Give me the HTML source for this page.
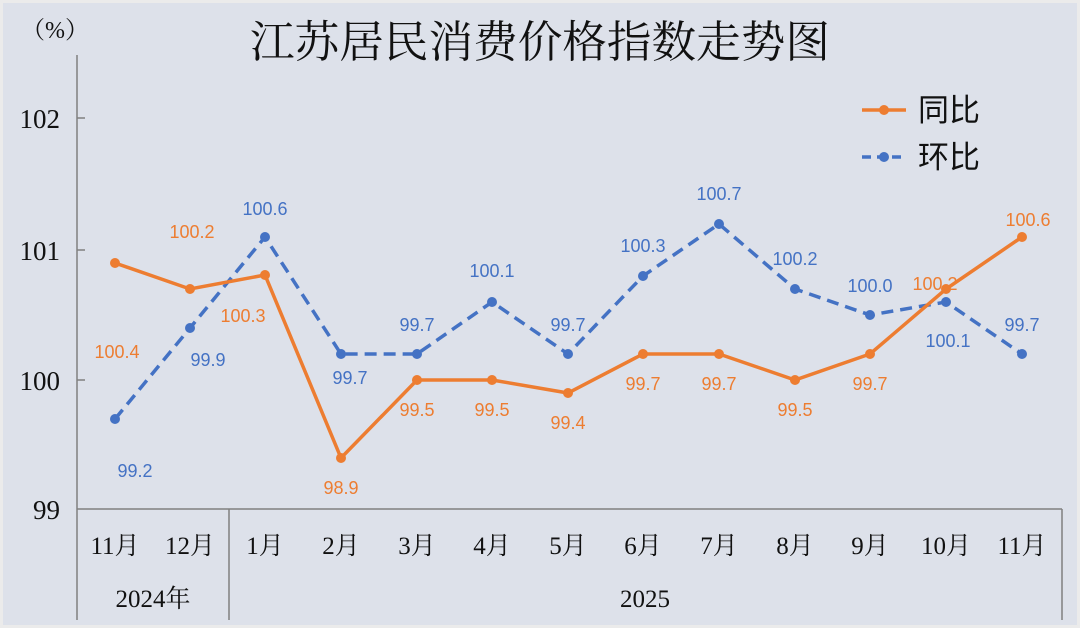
<!DOCTYPE html>
<html><head><meta charset="utf-8"><style>
body{margin:0;background:#ebebeb}
svg{display:block}
</style></head><body>
<svg width="1080" height="628" xmlns="http://www.w3.org/2000/svg">
<rect x="3" y="3" width="1074" height="622" fill="#dde1ea"/>
<g font-family="Liberation Serif, Noto Serif CJK SC, serif" fill="#111">
<text x="540" y="57" font-size="44" text-anchor="middle" textLength="580" lengthAdjust="spacingAndGlyphs">江苏居民消费价格指数走势图</text>
<text x="55" y="38" font-size="24" text-anchor="middle">（%）</text>
<g font-size="27" text-anchor="end">
<text x="60" y="128">102</text><text x="60" y="260">101</text><text x="60" y="390">100</text><text x="60" y="519">99</text>
</g>
<g font-size="25" text-anchor="middle">
<text x="115" y="554">11月</text><text x="190" y="554">12月</text><text x="265" y="554">1月</text><text x="341" y="554">2月</text><text x="417" y="554">3月</text><text x="492" y="554">4月</text><text x="568" y="554">5月</text><text x="643" y="554">6月</text><text x="719" y="554">7月</text><text x="795" y="554">8月</text><text x="870" y="554">9月</text><text x="946" y="554">10月</text><text x="1022" y="554">11月</text>
<text x="153" y="607">2024年</text><text x="645" y="607">2025</text>
</g>
</g>
<g stroke="#808080" stroke-width="1.5" fill="none">
<path d="M77 55V620M77 118H85M77 250H85M77 380H85M77 509H1062M229 509V620M1062 509V620"/>
</g>
<polyline fill="none" stroke="#4472c4" stroke-width="3.5" stroke-dasharray="12,7" points="115,419 190,328 265,237 341,354 417,354 492,302 568,354 643,276 719,224 795,289 870,315 946,302 1022,354"/>
<polyline fill="none" stroke="#ed7d31" stroke-width="3.5" points="115,263 190,289 265,275 341,458 417,380 492,380 568,393 643,354 719,354 795,380 870,354 946,289 1022,237"/>
<g fill="#4472c4">
<circle cx="115" cy="419" r="5"/><circle cx="190" cy="328" r="5"/><circle cx="265" cy="237" r="5"/><circle cx="341" cy="354" r="5"/><circle cx="417" cy="354" r="5"/><circle cx="492" cy="302" r="5"/><circle cx="568" cy="354" r="5"/><circle cx="643" cy="276" r="5"/><circle cx="719" cy="224" r="5"/><circle cx="795" cy="289" r="5"/><circle cx="870" cy="315" r="5"/><circle cx="946" cy="302" r="5"/><circle cx="1022" cy="354" r="5"/>
</g>
<g fill="#ed7d31">
<circle cx="115" cy="263" r="5"/><circle cx="190" cy="289" r="5"/><circle cx="265" cy="275" r="5"/><circle cx="341" cy="458" r="5"/><circle cx="417" cy="380" r="5"/><circle cx="492" cy="380" r="5"/><circle cx="568" cy="393" r="5"/><circle cx="643" cy="354" r="5"/><circle cx="719" cy="354" r="5"/><circle cx="795" cy="380" r="5"/><circle cx="870" cy="354" r="5"/><circle cx="946" cy="289" r="5"/><circle cx="1022" cy="237" r="5"/>
</g>
<g font-family="Liberation Sans, sans-serif" font-size="18" text-anchor="middle" fill="#ed7d31">
<text x="117" y="358">100.4</text><text x="192" y="238">100.2</text><text x="243" y="322">100.3</text><text x="341" y="494">98.9</text><text x="417" y="416">99.5</text><text x="492" y="416">99.5</text><text x="568" y="429">99.4</text><text x="643" y="390">99.7</text><text x="719" y="390">99.7</text><text x="795" y="416">99.5</text><text x="870" y="390">99.7</text><text x="935" y="290">100.2</text><text x="1028" y="226">100.6</text>
</g>
<g font-family="Liberation Sans, sans-serif" font-size="18" text-anchor="middle" fill="#4472c4">
<text x="135" y="477">99.2</text><text x="208" y="366">99.9</text><text x="265" y="215">100.6</text><text x="350" y="384">99.7</text><text x="417" y="331">99.7</text><text x="492" y="277">100.1</text><text x="568" y="331">99.7</text><text x="643" y="252">100.3</text><text x="719" y="200">100.7</text><text x="795" y="265">100.2</text><text x="870" y="292">100.0</text><text x="948" y="347">100.1</text><text x="1022" y="331">99.7</text>
</g>
<line x1="862" y1="110" x2="906" y2="110" stroke="#ed7d31" stroke-width="3.5"/><circle cx="884" cy="110" r="5" fill="#ed7d31"/>
<line x1="862" y1="157" x2="906" y2="157" stroke="#4472c4" stroke-width="3.5" stroke-dasharray="9,6"/><circle cx="884" cy="157" r="5" fill="#4472c4"/>
<g font-family="Liberation Sans, Noto Sans CJK SC, sans-serif" font-size="31" fill="#111">
<text x="918" y="121">同比</text><text x="918" y="168">环比</text>
</g>
</svg>
</body></html>
